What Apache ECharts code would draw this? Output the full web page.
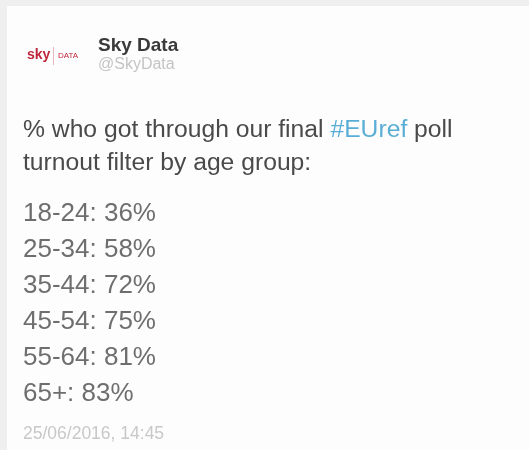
<!DOCTYPE html>
<html><head><meta charset="utf-8">
<script src="https://cdn.jsdelivr.net/npm/echarts@6/dist/echarts.min.js"></script>
<style>html,body{margin:0;padding:0;background:#efefef;}#c{width:529px;height:450px;}</style>
</head><body><div id="c"></div>
<script>
var ageGroups = ['18-24', '25-34', '35-44', '45-54', '55-64', '65+'];
var sharePct = [36, 58, 72, 75, 81, 83];
var accountName = 'Sky Data';
var accountHandle = '@SkyData';
var introBefore = '% who got through our final ';
var hashtag = '#EUref';
var introAfter = ' poll';
var introLine2 = 'turnout filter by age group:';
var timestamp = '25/06/2016, 14:45';

var FONT = 'Liberation Sans, Arial, sans-serif';
var chart = echarts.init(document.getElementById('c'));
chart.setOption({
  backgroundColor: '#efefef',
  animation: false,
  grid: { left: 23, right: 20, top: 196, bottom: 38 },
  xAxis: { type: 'value', min: 0, max: 1, show: false },
  yAxis: { type: 'category', data: ageGroups, inverse: true, show: false },
  graphic: [
    { type: 'rect', left: 7, top: 6, shape: { width: 530, height: 450 }, style: { fill: '#fdfdfd' }, silent: true },
    { type: 'text', left: 27, top: 48, style: { text: 'sky', font: 'bold 14px ' + FONT, fill: '#c0263a' } },
    { type: 'rect', left: 53, top: 47, shape: { width: 1, height: 18 }, style: { fill: '#e5b9be' } },
    { type: 'text', left: 58, top: 52, style: { text: 'DATA', font: '8px ' + FONT, fill: '#c0263a' } },
    { type: 'text', left: 98, top: 36, style: { text: accountName, font: 'bold 19px ' + FONT, fill: '#3a3a3a' } },
    { type: 'text', left: 98, top: 57, style: { text: accountHandle, font: '16px ' + FONT, fill: '#c4c4c4' } },
    { type: 'text', left: 23, top: 118, style: {
        rich: { n: { font: '24.7px ' + FONT, fill: '#4a4a4a' }, h: { font: '24.7px ' + FONT, fill: '#5aaed6' } },
        text: '{n|' + introBefore + '}{h|' + hashtag + '}{n|' + introAfter + '}' } },
    { type: 'text', left: 23, top: 151, style: { text: introLine2, font: '24.7px ' + FONT, fill: '#4a4a4a' } },
    { type: 'text', left: 23, top: 425, style: { text: timestamp, font: '17.5px ' + FONT, fill: '#c8c8c8' } }
  ],
  series: [{
    type: 'scatter',
    symbolSize: 0,
    data: ageGroups.map(function (g, i) { return [0, g, sharePct[i]]; }),
    label: {
      show: true, position: 'right', distance: 0,
      fontFamily: FONT, fontSize: 26, color: '#4a4a4a',
      formatter: function (p) { return p.data[1] + ': ' + p.data[2] + '%'; }
    }
  }]
});
</script></body></html>
